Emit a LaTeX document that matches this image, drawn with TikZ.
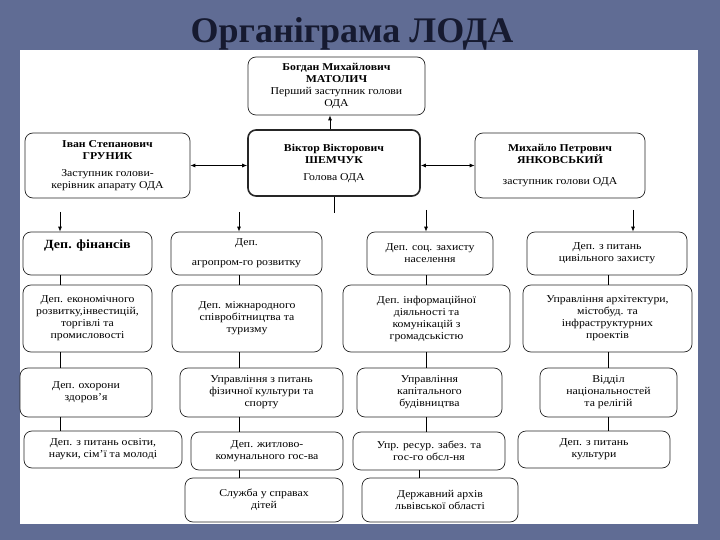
\documentclass[tikz,border=0pt]{standalone}
\usepackage{fontspec}
\setmainfont{Liberation Serif}[FakeStretch=1.12]
\newfontfamily\titlefont{Liberation Serif}
\usetikzlibrary{arrows.meta, calc}

\definecolor{bgblue}{RGB}{96,108,148}
\definecolor{titlecol}{RGB}{22,26,48}

\tikzset{
  box/.style={draw=black!85, line width=0.7pt, rounded corners=8pt, fill=white,
    align=center, inner sep=2pt, font=\fontsize{10.5}{12}\selectfont},
  headbox/.style={box, line width=1.6pt},
  link/.style={draw=black, line width=0.8pt},
  arrowlink/.style={link, -{Latex[length=5pt,width=4pt]}},
  twoway/.style={link, {Latex[length=5pt,width=4pt]}-{Latex[length=5pt,width=4pt]}}
}

\begin{document}
\begin{tikzpicture}[x=1pt,y=-1pt]
  % sfondo e pannello
  \fill[bgblue] (0,0) rectangle (720,540);
  \useasboundingbox (0,0) rectangle (720,540);
  \fill[white] (20,50) rectangle (698,524);

  % titolo
  \node[text=titlecol, font=\titlefont\fontsize{36}{36}\bfseries\selectfont] (title) at (352,34) {Органіграма ЛОДА};

  % vertice
  \node[box, minimum width=177, minimum height=58] (matol) at (336.5,86)
    {\textbf{Богдан Михайлович}\\ \textbf{МАТОЛИЧ}\\ Перший заступник голови\\ ОДА};
  \node[box, minimum width=165, minimum height=65] (grun) at (107.5,165.5)
    {\textbf{Іван Степанович}\\ \textbf{ГРУНИК}\\[5pt] Заступник голови-\\ керівник апарату ОДА};
  \node[headbox, minimum width=172, minimum height=66] (shem) at (334,163)
    {\textbf{Віктор Вікторович}\\ \textbf{ШЕМЧУК}\\[5pt] Голова ОДА};
  \node[box, minimum width=170, minimum height=65] (yank) at (560,165.5)
    {\textbf{Михайло Петрович}\\ \textbf{ЯНКОВСЬКИЙ}\\[9pt] заступник голови ОДА};

  % riga 1
  \node[box, minimum width=129, minimum height=43] (fin) at (87.5,253.5)
    {\fontsize{12.5}{14}\bfseries\selectfont Деп. фінансів\\[6pt]\mbox{}};
  \node[box, minimum width=151, minimum height=43] (agro) at (246.5,253.5)
    {Деп.\\[8pt] агропром-го розвитку};
  \node[box, minimum width=126, minimum height=43] (soc) at (430,253.5)
    {Деп. соц. захисту\\ населення};
  \node[box, minimum width=160, minimum height=43] (civ) at (607,253.5)
    {Деп. з питань\\ цивільного захисту};

  % riga 2
  \node[box, minimum width=129, minimum height=67] (econ) at (87.5,318.5)
    {Деп. економічного\\ розвитку,інвестицій,\\ торгівлі та\\ промисловості};
  \node[box, minimum width=150, minimum height=67] (intl) at (247,318.5)
    {Деп. міжнародного\\ співробітництва та\\ туризму};
  \node[box, minimum width=167, minimum height=67] (info) at (426.5,318.5)
    {Деп. інформаційної\\ діяльності та\\ комунікацій з\\ громадськістю};
  \node[box, minimum width=169, minimum height=67] (arch) at (607.5,318.5)
    {Управління архітектури,\\ містобуд. та\\ інфраструктурних\\ проектів};

  % riga 3
  \node[box, minimum width=132, minimum height=49] (health) at (86,392.5)
    {Деп. охорони\\ здоров'я};
  \node[box, minimum width=163, minimum height=49] (sport) at (261.5,392.5)
    {Управління з питань\\ фізичної культури та\\ спорту};
  \node[box, minimum width=145, minimum height=49] (build) at (429.5,392.5)
    {Управління\\ капітального\\ будівництва};
  \node[box, minimum width=137, minimum height=49] (relig) at (608.5,392.5)
    {Відділ\\ національностей\\ та релігій};

  % riga 4
  \node[box, minimum width=158, minimum height=37] (edu) at (103,449.5)
    {Деп. з питань освіти,\\ науки, сім'ї та молоді};
  \node[box, minimum width=152, minimum height=38] (house) at (267,451)
    {Деп. житлово-\\ комунального гос-ва};
  \node[box, minimum width=152, minimum height=38] (serv) at (429,451)
    {Упр. ресур. забез. та\\ гос-го обсл-ня};
  \node[box, minimum width=152, minimum height=37] (cult) at (594,449.5)
    {Деп. з питань\\ культури};

  % riga 5
  \node[box, minimum width=158, minimum height=44] (child) at (264,500)
    {Служба у справах\\ дітей};
  \node[box, minimum width=156, minimum height=44] (archive) at (440,500)
    {Державний архів\\ львівської області};

  % colonne
  \coordinate (m) at (330,0);
  \coordinate (c1) at (60,0);
  \coordinate (c2) at (239,0);
  \coordinate (c3) at (426,0);
  \coordinate (c4) at (608,0);
  \coordinate (c5) at (419,0);
  \coordinate (stem) at (334,213);
  \coordinate (t1) at (60,212);
  \coordinate (t2) at (239,212);
  \coordinate (t3) at (426,210);
  \coordinate (t4) at (633,210);

  % frecce
  \draw[arrowlink] (shem.north -| m) -- (matol.south -| m);
  \draw[twoway] (grun.east) -- (grun.east -| shem.west);
  \draw[twoway] (yank.west -| shem.east) -- (yank.west);
  \draw[link] (shem.south) -- (stem);
  \draw[arrowlink] (t1) -- (fin.north -| t1);
  \draw[arrowlink] (t2) -- (agro.north -| t2);
  \draw[arrowlink] (t3) -- (soc.north -| t3);
  \draw[arrowlink] (t4) -- (civ.north -| t4);

  % collegamenti
  \draw[link] (fin.south -| c1) -- (econ.north -| c1);
  \draw[link] (econ.south -| c1) -- (health.north -| c1);
  \draw[link] (health.south -| c1) -- (edu.north -| c1);
  \draw[link] (agro.south -| c2) -- (intl.north -| c2);
  \draw[link] (intl.south -| c2) -- (sport.north -| c2);
  \draw[link] (sport.south -| c2) -- (house.north -| c2);
  \draw[link] (house.south -| c2) -- (child.north -| c2);
  \draw[link] (soc.south -| c3) -- (info.north -| c3);
  \draw[link] (info.south -| c3) -- (build.north -| c3);
  \draw[link] (build.south -| c3) -- (serv.north -| c3);
  \draw[link] (serv.south -| c5) -- (archive.north -| c5);
  \draw[link] (civ.south -| c4) -- (arch.north -| c4);
  \draw[link] (arch.south -| c4) -- (relig.north -| c4);
  \draw[link] (relig.south -| c4) -- (cult.north -| c4);
\end{tikzpicture}
\end{document}
